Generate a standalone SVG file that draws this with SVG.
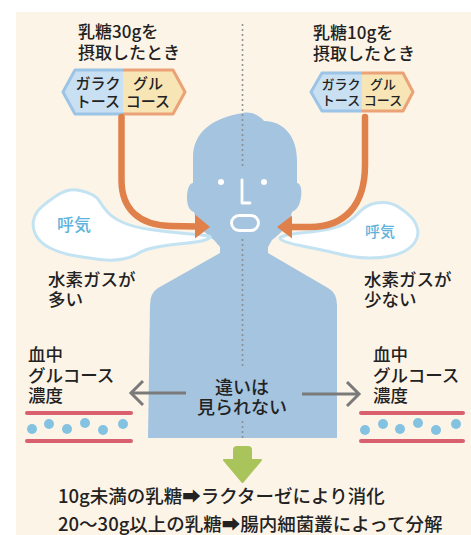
<svg xmlns="http://www.w3.org/2000/svg" width="471" height="535" viewBox="0 0 471 535">
  <style>
    .t { font-family: "Noto Sans CJK JP", "Noto Sans", sans-serif; font-weight: 500; fill: #222; }
    .breath { font-family: "Noto Sans CJK JP", sans-serif; font-weight: 500; fill: #5fb3dc; }
    .cloud { fill: #ffffff; stroke: #c4e3f2; stroke-width: 3; stroke-linejoin: round; }
    .flow { fill: none; stroke: #e0804a; stroke-width: 6.5; stroke-linecap: round; }
    .head { fill: #e0804a; }
    .gray { fill: none; stroke: #7a7a7a; stroke-width: 3; }
    .vessel { stroke: #d9606e; stroke-width: 4; stroke-linecap: round; }
    .cell { fill: #84c2e2; }
    .lac { fill: #c9e0f2; }
    .glu { fill: #f7e5b5; }
    .lacS { fill: none; stroke: #9cc4e6; stroke-width: 3; stroke-linejoin: round; }
    .gluS { fill: none; stroke: #eba276; stroke-width: 3; stroke-linejoin: round; }
    .face { fill: none; stroke: #ffffff; stroke-width: 2.8; stroke-linecap: round; stroke-linejoin: round; }
    .dots { stroke: #8a8a8a; stroke-width: 2; stroke-dasharray: 0 5; stroke-linecap: round; }
  </style>

  <!-- panel -->
  <rect x="16" y="12" width="455" height="523" fill="#fdf4e8"/>

  <!-- person silhouette -->
  <g id="person">
    <path fill="#a4c4e0" d="M243,113 C252,111 260,116 264,121 C284,121 297,137 297,160 L297,183 C303,184 302,198 299,205 C297,209 294,211 292,212 C289,224 282,233 272,240 L268,247 L268,253 L328,288 Q337,293 337,305 L337,438 L148,438 L150,305 Q150,293 158,288 L220,253 L220,247 L214,240 C204,233 197,224 194,212 C190,211 187,206 187,198 C187,188 190,183 193,183 L193,158 C193,132 212,118 243,113 Z"/>
    <circle cx="221" cy="182" r="3" fill="#fff"/>
    <circle cx="264" cy="182" r="3" fill="#fff"/>
    <path class="face" d="M242,180 L242,203 L250,203"/>
    <rect class="face" x="231.5" y="215.5" width="27" height="15" rx="7.5"/>
  </g>

  <!-- centre guide -->
  <g id="guide">
    <line class="dots" x1="242.5" y1="25" x2="242.5" y2="168"/>
    <line class="dots" x1="242.5" y1="240" x2="242.5" y2="368"/>
    <line class="dots" x1="242.5" y1="422" x2="242.5" y2="442"/>
  </g>

  <!-- exhaled breath -->
  <g id="breath-left">
    <path class="cloud" d="M208,236 Q203,235 185,233.5 Q167,232 150,229.5 Q133,227 123,222.5 Q113,218 108,212.5 Q103,207 100,202 Q97,197 92,194.5 Q87,192 80,190.5 Q73,189 67.5,190.5 Q62,192 54.5,197 Q47,202 41,207.5 Q35,213 33.5,220.5 Q32,228 36,235.5 Q40,243 50,248 Q60,253 73.5,255.5 Q87,258 100,259.5 Q113,261 123,259 Q133,257 138,253.5 Q143,250 155,247.5 Q167,245 183.5,243.5 Q200,242 206.5,239.5 Q213,237 208,236 Z"/>
    <text class="breath" x="74" y="231" font-size="17" text-anchor="middle">呼気</text>
  </g>
  <g id="breath-right">
    <path class="cloud" d="M283.5,236 Q290,234 305,232.5 Q320,231 331,228.5 Q342,226 348.5,221.5 Q355,217 359.5,212 Q364,207 370.5,204.5 Q377,202 384.5,202.5 Q392,203 398.5,207 Q405,211 410.5,216.5 Q416,222 417.5,229 Q419,236 415,242 Q411,248 404,251.5 Q397,255 388.5,256.5 Q380,258 370,258 Q360,258 351.5,256.5 Q343,255 335,253 Q327,251 317,249 Q307,247 297.5,245 Q288,243 282.5,240.5 Q277,238 283.5,236 Z"/>
    <text class="breath" x="380" y="237" font-size="15" text-anchor="middle">呼気</text>
  </g>

  <!-- lactose intake labels -->
  <g id="intake-30g">
    <text class="t" font-size="17" x="78" y="38">乳糖30gを</text>
    <text class="t" font-size="17" x="78" y="59">摂取したとき</text>
    <path class="lac" d="M123,70 L75,70 L63,92 L75,114 L123,114 Z"/>
    <path class="glu" d="M123,70 L173,70 L185,92 L173,114 L123,114 Z"/>
    <path class="lacS" d="M123,70 L75,70 L63,92 L75,114 L123,114"/>
    <path class="gluS" d="M123,70 L173,70 L185,92 L173,114 L123,114"/>
    <text class="t" font-size="15" x="98" y="89" text-anchor="middle">ガラク</text>
    <text class="t" font-size="15" x="98" y="107" text-anchor="middle">トース</text>
    <text class="t" font-size="15" x="148" y="89" text-anchor="middle">グル</text>
    <text class="t" font-size="15" x="148" y="107" text-anchor="middle">コース</text>
  </g>
  <g id="intake-10g">
    <text class="t" font-size="17" x="313" y="39">乳糖10gを</text>
    <text class="t" font-size="17" x="313" y="60">摂取したとき</text>
    <path class="lac" d="M362,73 L322,73 L311,92 L322,111 L362,111 Z"/>
    <path class="glu" d="M362,73 L403,73 L413,92 L403,111 L362,111 Z"/>
    <path class="lacS" d="M362,73 L322,73 L311,92 L322,111 L362,111"/>
    <path class="gluS" d="M362,73 L403,73 L413,92 L403,111 L362,111"/>
    <text class="t" font-size="13" x="341" y="89" text-anchor="middle">ガラク</text>
    <text class="t" font-size="13" x="341" y="105" text-anchor="middle">トース</text>
    <text class="t" font-size="13" x="383" y="89" text-anchor="middle">グル</text>
    <text class="t" font-size="13" x="383" y="105" text-anchor="middle">コース</text>
  </g>

  <!-- gas labels -->
  <g id="gas-more">
    <text class="t" font-size="17.5" x="48" y="286">水素ガスが</text>
    <text class="t" font-size="17.5" x="48" y="306">多い</text>
  </g>
  <g id="gas-less">
    <text class="t" font-size="17.5" x="364" y="286">水素ガスが</text>
    <text class="t" font-size="17.5" x="364" y="306">少ない</text>
  </g>

  <!-- blood glucose -->
  <g id="glucose-left">
    <text class="t" font-size="17.5" x="28" y="361">血中</text>
    <text class="t" font-size="17.5" x="28" y="382">グルコース</text>
    <text class="t" font-size="17.5" x="28" y="402">濃度</text>
    <line class="vessel" x1="27" y1="413" x2="131" y2="413"/>
    <line class="vessel" x1="27" y1="441" x2="131" y2="441"/>
    <circle class="cell" cx="32" cy="429" r="5"/>
    <circle class="cell" cx="49" cy="424" r="5"/>
    <circle class="cell" cx="67" cy="429" r="5"/>
    <circle class="cell" cx="85" cy="423" r="5"/>
    <circle class="cell" cx="103" cy="430" r="5"/>
    <circle class="cell" cx="123" cy="424" r="5"/>
  </g>
  <g id="glucose-right">
    <text class="t" font-size="17.5" x="373" y="361">血中</text>
    <text class="t" font-size="17.5" x="373" y="382">グルコース</text>
    <text class="t" font-size="17.5" x="373" y="402">濃度</text>
    <line class="vessel" x1="361" y1="413" x2="463" y2="413"/>
    <line class="vessel" x1="361" y1="441" x2="463" y2="441"/>
    <circle class="cell" cx="365" cy="430" r="5"/>
    <circle class="cell" cx="383" cy="424" r="5"/>
    <circle class="cell" cx="400" cy="429" r="5"/>
    <circle class="cell" cx="418" cy="423" r="5"/>
    <circle class="cell" cx="436" cy="430" r="5"/>
    <circle class="cell" cx="456" cy="424" r="5"/>
  </g>

  <g id="no-difference">
    <text class="t" font-size="18" x="242" y="394" text-anchor="middle">違いは</text>
    <text class="t" font-size="18" x="242" y="414" text-anchor="middle">見られない</text>
  </g>

  <g id="summary">
    <text class="t" font-size="18.5" x="58" y="503">10g未満の乳糖➡ラクターゼにより消化</text>
    <text class="t" font-size="18.5" x="58" y="531">20〜30g以上の乳糖➡腸内細菌叢によって分解</text>
  </g>

  <!-- connectors -->
  <g id="connectors">
    <path class="flow" d="M121.5,117 L121.5,180 C121.5,210 140,225 170,226 L197,226.5"/>
    <polygon class="head" points="195,214.5 210,227 195,238.5"/>
    <path class="flow" d="M365,117 L365,165 C365,205 345,227 310,227 L290,227"/>
    <polygon class="head" points="292,215.5 277,227 292,238.5"/>
    <line class="gray" x1="186" y1="393" x2="132" y2="393"/>
    <polyline class="gray" points="143,381 131,393 143,405" stroke-linejoin="miter"/>
    <line class="gray" x1="302" y1="394" x2="358" y2="394"/>
    <polyline class="gray" points="347,382 359,394 347,406"/>
    <path fill="#a8c45a" stroke="#a8c45a" stroke-width="2" stroke-linejoin="round" d="M234,450 Q234,447 237,447 L248,447 Q251,447 251,450 L251,460 L261,460 L242.5,482 L224,460 L234,460 Z"/>
  </g>
</svg>
